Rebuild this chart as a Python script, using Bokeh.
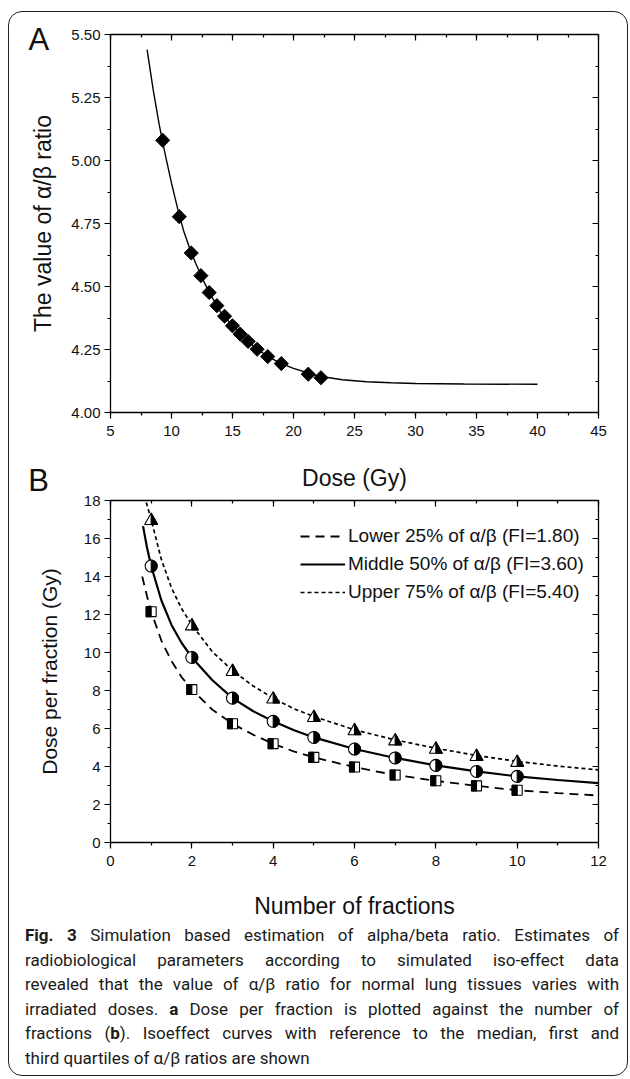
import math
from bokeh.plotting import figure
from bokeh.models import (LinearAxis, Legend, LegendItem, Range1d, SingleIntervalTicker,
                          CustomJSTickFormatter, NumeralTickFormatter, Div)
from bokeh.layouts import column
from bokeh.embed import file_html
from bokeh.resources import INLINE
from bokeh.core.properties import value

# ---------------- Panel A data ----------------
a_dose_pts = [9.28, 10.64, 11.62, 12.41, 13.09, 13.72, 14.35, 15.0, 15.63, 16.28, 17.02, 17.89, 19.0, 21.21, 22.25]
a_ratio_pts = [5.08, 4.777, 4.633, 4.543, 4.476, 4.424, 4.382, 4.344, 4.311, 4.282, 4.251, 4.222, 4.194, 4.152, 4.138]
a_dose_fit = [8.0, 8.5, 9.0, 9.5, 10.0, 10.5, 11.0, 11.5, 12.0, 12.5, 13.0, 14.0, 15.0, 16.0, 17.0, 18.0,
              19.0, 20.0, 22.0, 24.0, 26.0, 28.0, 30.0, 34.0, 40.0]
a_ratio_fit = [5.44, 5.28, 5.14, 5.02, 4.91, 4.81, 4.72, 4.65, 4.59, 4.535, 4.485, 4.40, 4.344, 4.295, 4.252, 4.220,
               4.194, 4.175, 4.145, 4.130, 4.122, 4.118, 4.115, 4.113, 4.112]

# ---------------- Panel B data ----------------
b_fractions = [1, 2, 3, 4, 5, 6, 7, 8, 9, 10]
b_lower = [12.15, 8.05, 6.25, 5.2, 4.48, 3.97, 3.55, 3.25, 2.98, 2.75]
b_middle = [14.55, 9.74, 7.6, 6.38, 5.53, 4.92, 4.45, 4.06, 3.74, 3.48]
b_upper = [17.0, 11.45, 9.05, 7.6, 6.63, 5.93, 5.4, 4.96, 4.58, 4.27]

lower_n = [0.78, 0.9, 1.0, 1.25, 1.5, 1.75, 2.0, 2.5, 3.0, 3.5, 4.0, 4.5, 5.0, 6.0, 7.0, 8.0, 9.0, 10.0, 11.0, 12.0]
lower_v = [14.0, 12.95, 12.15, 10.63, 9.55, 8.7, 8.05, 7.0, 6.25, 5.68, 5.2, 4.8, 4.48, 3.97, 3.55, 3.25, 2.98, 2.75, 2.6, 2.47]
middle_n = [0.8, 0.9, 1.0, 1.25, 1.5, 1.75, 2.0, 2.5, 3.0, 3.5, 4.0, 4.5, 5.0, 6.0, 7.0, 8.0, 9.0, 10.0, 11.0, 12.0]
middle_v = [16.65, 15.5, 14.55, 12.75, 11.45, 10.5, 9.74, 8.55, 7.6, 6.92, 6.38, 5.92, 5.53, 4.92, 4.45, 4.06, 3.74, 3.48, 3.29, 3.13]
upper_n = [0.88, 1.0, 1.25, 1.5, 1.75, 2.0, 2.5, 3.0, 3.5, 4.0, 4.5, 5.0, 6.0, 7.0, 8.0, 9.0, 10.0, 11.0, 12.0]
upper_v = [17.9, 17.0, 14.9, 13.4, 12.3, 11.45, 10.05, 9.05, 8.25, 7.6, 7.05, 6.63, 5.93, 5.4, 4.96, 4.58, 4.27, 4.02, 3.82]

legend_labels = ["Lower 25% of \u03b1/\u03b2 (FI=1.80)",
                 "Middle 50% of \u03b1/\u03b2 (FI=3.60)",
                 "Upper 75% of \u03b1/\u03b2 (FI=5.40)"]

FONT = "Liberation Sans"
FIG_W = 617
FRAME_W = 488
LEFT = 101
OVERLAP = 30


def style_axes(p, xint, xminor, yint, yminor, yfmt=None):
    for ax in p.xaxis + p.yaxis:
        ax.axis_line_width = 1.3
        ax.major_tick_line_width = 1.2
        ax.minor_tick_line_width = 1.2
        ax.major_tick_out = 6
        ax.major_tick_in = 0
        ax.minor_tick_out = 3
        ax.minor_tick_in = 0
        ax.major_label_text_font = FONT
        ax.major_label_text_font_size = "15px"
        ax.major_label_text_color = "#111111"
        ax.axis_label_text_font = FONT
        ax.axis_label_text_font_style = "normal"
        ax.axis_label_text_color = "#111111"
    p.xaxis.ticker = SingleIntervalTicker(interval=xint, num_minor_ticks=xminor)
    p.yaxis.ticker = SingleIntervalTicker(interval=yint, num_minor_ticks=yminor)
    p.xaxis.major_label_standoff = 7
    p.yaxis.major_label_standoff = 4
    if yfmt:
        p.yaxis.formatter = NumeralTickFormatter(format=yfmt)
    blank = CustomJSTickFormatter(code="return '';")
    top = LinearAxis(ticker=SingleIntervalTicker(interval=xint, num_minor_ticks=xminor), formatter=blank,
                     major_tick_in=6, major_tick_out=0, minor_tick_in=3, minor_tick_out=0,
                     major_label_standoff=0, axis_line_width=1.3, major_tick_line_width=1.2,
                     minor_tick_line_width=1.2)
    right = LinearAxis(ticker=SingleIntervalTicker(interval=yint, num_minor_ticks=yminor), formatter=blank,
                       major_tick_in=6, major_tick_out=0, minor_tick_in=3, minor_tick_out=0,
                       major_label_standoff=0, axis_line_width=1.3, major_tick_line_width=1.2,
                       minor_tick_line_width=1.2)
    p.add_layout(top, "above")
    p.add_layout(right, "right")
    p.xgrid.visible = False
    p.ygrid.visible = False
    p.outline_line_color = None


# ---------------- Figure A ----------------
pA = figure(width=FIG_W, height=482, output_backend="svg", toolbar_location=None,
            x_range=Range1d(5, 45), y_range=Range1d(4.0, 5.5),
            min_border_left=LEFT, min_border_right=FIG_W - LEFT - FRAME_W,
            min_border_top=22, min_border_bottom=82)
pA.xaxis.axis_label = "Dose (Gy)"
pA.yaxis.axis_label = "The value of \u03b1/\u03b2 ratio"
pA.xaxis.axis_label_text_font_size = "23px"
pA.yaxis.axis_label_text_font_size = "23px"
pA.xaxis.axis_label_standoff = 26
pA.yaxis.axis_label_standoff = 12
style_axes(pA, 5, 2, 0.25, 2, "0.00")

pA.line(a_dose_fit, a_ratio_fit, line_color="black", line_width=1.4)
pA.scatter(a_dose_pts, a_ratio_pts, marker="square", angle=45, angle_units="deg", size=10,
           fill_color="black", line_color="black")

letterA = pA.text(x=[-1.72], y=[5.482], text=["A"], text_font=value(FONT),
                  text_font_size="31px", text_color="#111111", text_baseline="middle",
                  text_align="left")
letterA.level = "overlay"

# ---------------- Figure B ----------------
FRAME_H_B = 345
pB = figure(width=FIG_W, height=427 + OVERLAP, output_backend="svg", toolbar_location=None,
            x_range=Range1d(0, 12), y_range=Range1d(0, 18),
            min_border_left=LEFT, min_border_right=FIG_W - LEFT - FRAME_W,
            min_border_top=6 + OVERLAP, min_border_bottom=76,
            margin=(-OVERLAP, 0, 0, 0))
pB.border_fill_color = None
pB.xaxis.axis_label = "Number of fractions"
pB.yaxis.axis_label = "Dose per fraction (Gy)"
pB.xaxis.axis_label_text_font_size = "23px"
pB.yaxis.axis_label_text_font_size = "21px"
pB.xaxis.axis_label_standoff = 24
pB.yaxis.axis_label_standoff = 20
style_axes(pB, 2, 2, 2, 2)

letterB = pB.text(x=[-2.02], y=[19.04], text=["B"], text_font=value(FONT),
                  text_font_size="31px", text_color="#111111", text_baseline="middle",
                  text_align="left")
letterB.level = "overlay"

r_low = pB.line(lower_n, lower_v, line_color="black", line_width=1.8, line_dash="9 6")
r_mid = pB.line(middle_n, middle_v, line_color="black", line_width=2.2)
r_up = pB.line(upper_n, upper_v, line_color="black", line_width=1.7, line_dash="4 3")

PXX = FRAME_W / 12.0
PXY = FRAME_H_B / 18.0

# half-filled squares (left half black)
hs = 5.0
sq_xs = [[n - hs / PXX, n + hs / PXX, n + hs / PXX, n - hs / PXX] for n in b_fractions]
sq_ys = [[v - hs / PXY, v - hs / PXY, v + hs / PXY, v + hs / PXY] for v in b_lower]
sqh_xs = [[n - hs / PXX, n, n, n - hs / PXX] for n in b_fractions]
pB.patches(sq_xs, sq_ys, fill_color="white", line_color="black", line_width=1.1)
pB.patches(sqh_xs, sq_ys, fill_color="black", line_color="black", line_width=1.1)

# half-filled circles (right half black)
pB.scatter(b_fractions, b_middle, marker="circle", size=12, fill_color="white", line_color="black", line_width=1.1)
pB.wedge(b_fractions, b_middle, radius=6, radius_units="screen", start_angle=-math.pi / 2,
         end_angle=math.pi / 2, fill_color="black", line_color="black", line_width=1.0)

# half-filled triangles (right half black)
tw, tt, tb = 6.5, 6.5, 5.0
tr_xs = [[n - tw / PXX, n, n + tw / PXX] for n in b_fractions]
tr_ys = [[v - tb / PXY, v + tt / PXY, v - tb / PXY] for v in b_upper]
trh_xs = [[n, n + tw / PXX, n] for n in b_fractions]
trh_ys = [[v + tt / PXY, v - tb / PXY, v - tb / PXY] for v in b_upper]
pB.patches(tr_xs, tr_ys, fill_color="white", line_color="black", line_width=1.1)
pB.patches(trh_xs, trh_ys, fill_color="black", line_color="black", line_width=1.1)

legend = Legend(items=[LegendItem(label=legend_labels[0], renderers=[r_low]),
                       LegendItem(label=legend_labels[1], renderers=[r_mid]),
                       LegendItem(label=legend_labels[2], renderers=[r_up])],
                location=(190, 239), border_line_color=None, background_fill_alpha=0,
                label_text_font=FONT, label_text_font_size="19px", label_text_color="#111111",
                glyph_width=45, glyph_height=22, label_height=22, spacing=6, padding=0,
                margin=0, label_standoff=3)
pB.add_layout(legend, "center")

# ---------------- Caption ----------------
J = "display:block;text-align:justify;text-align-last:justify;"
caption_html = (
    "<div style=\"font-family:'Roboto';font-size:17px;line-height:24.6px;color:#1a1a1a;"
    "width:594px;margin-left:11px;margin-top:-3px;\">"
    f"<span style=\"{J}\"><b>Fig. 3</b> Simulation based estimation of alpha/beta ratio. Estimates of</span>"
    f"<span style=\"{J}\">radiobiological parameters according to simulated iso-effect data</span>"
    f"<span style=\"{J}\">revealed that the value of \u03b1/\u03b2 ratio for normal lung tissues varies with</span>"
    f"<span style=\"{J}\">irradiated doses. <b>a</b> Dose per fraction is plotted against the number of</span>"
    f"<span style=\"{J}\">fractions (<b>b</b>). Isoeffect curves with reference to the median, first and</span>"
    "<span style=\"display:block;text-align:left;\">third quartiles of \u03b1/\u03b2 ratios are shown</span>"
    "</div>"
)
cap = Div(text=caption_html, width=FIG_W, height=152)

layout = column(pA, pB, cap, margin=(12, 0, 0, 9))

html = file_html(layout, INLINE)
# decorative rounded frame around the whole figure (transparent overlay)
frame_div = ('<div style="position:absolute;left:8px;top:11px;width:620px;height:1065px;'
             'box-sizing:border-box;border:1.5px solid #222;border-radius:14px;'
             'pointer-events:none;z-index:10;"></div>')
k = html.rfind("</body>")
html = html[:k] + frame_div + html[k:]
open("out.html", "w").write(html)
